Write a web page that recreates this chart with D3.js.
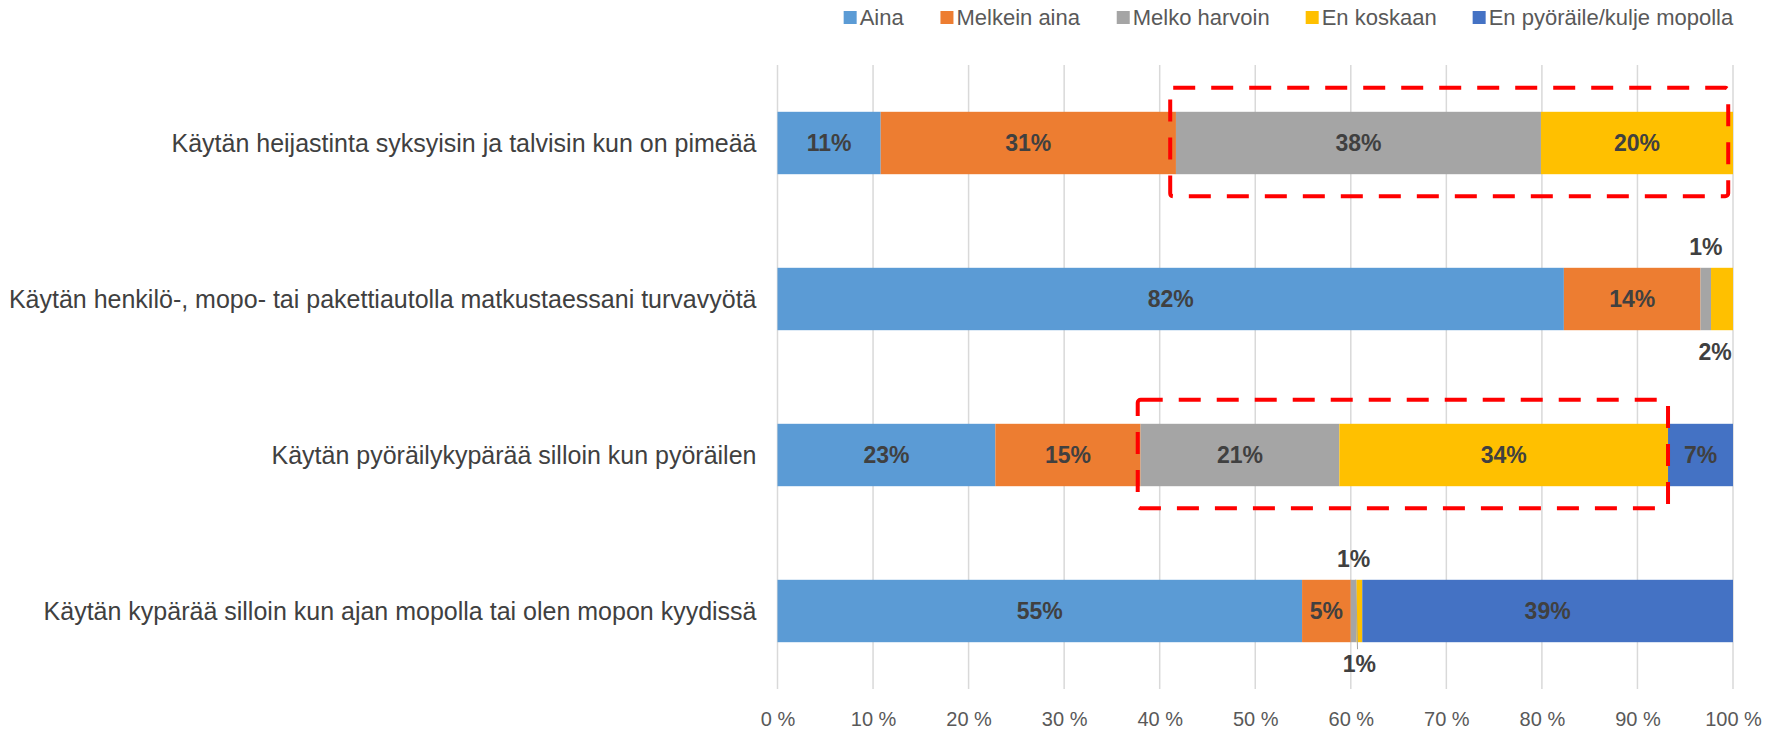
<!DOCTYPE html>
<html>
<head>
<meta charset="utf-8">
<script src="https://cdn.jsdelivr.net/npm/d3@7"></script>
<style>
  body { margin: 0; background: #fff; }
  svg { display: block; font-family: "Liberation Sans Narrow", "Liberation Sans", sans-serif; }
</style>
</head>
<body>
<svg id="chart" width="1777" height="730"></svg>
<script>
// categories (rows, top to bottom)
var categories = [
  "Käytän heijastinta syksyisin ja talvisin kun on pimeää",
  "Käytän henkilö-, mopo- tai pakettiautolla matkustaessani turvavyötä",
  "Käytän pyöräilykypärää silloin kun pyöräilen",
  "Käytän kypärää silloin kun ajan mopolla tai olen mopon kyydissä"
];

var seriesNames = ["Aina", "Melkein aina", "Melko harvoin", "En koskaan", "En pyöräile/kulje mopolla"];
var seriesColors = ["#5B9BD5", "#ED7D31", "#A5A5A5", "#FFC000", "#4472C4"];

// percent values per series, one per category
var aina         = [10.8, 82.3, 22.8, 54.9];
var melkeinAina  = [30.9, 14.3, 15.2, 5.1];
var melkoHarvoin = [38.2, 1.1, 20.8, 0.6];
var enKoskaan    = [20.1, 2.3, 34.4, 0.6];
var enPyoraile   = [0, 0, 6.8, 38.8];

var tickValues = [0, 10, 20, 30, 40, 50, 60, 70, 80, 90, 100];

// red dashed highlight boxes (row, from %, to %)
var highlightRows = [0, 2];
var highlightFrom = [41.1, 37.7];
var highlightTo   = [99.5, 93.2];

var allSeries = [aina, melkeinAina, melkoHarvoin, enKoskaan, enPyoraile];

var chart = d3.select("#chart");
var width = 1777, height = 730;
var margin = {top: 65, right: 44, bottom: 41, left: 777.5};

var x = d3.scaleLinear().domain([0, 100]).range([margin.left, width - margin.right]);
var y = d3.scaleBand().domain(categories)
          .range([margin.top, height - margin.bottom])
          .paddingInner(0.6).paddingOuter(0.3);

// gridlines
chart.append("g").attr("id", "grid")
     .selectAll("line").data(tickValues).enter()
     .append("line")
     .attr("x1", function(d) { return x(d); })
     .attr("x2", function(d) { return x(d); })
     .attr("y1", margin.top)
     .attr("y2", height - margin.bottom)
     .attr("stroke", "#D9D9D9")
     .attr("stroke-width", 1.5);

// x axis labels
var xAxis = d3.axisBottom(x).tickValues(tickValues).tickSize(0).tickPadding(0)
              .tickFormat(function(d) { return d + " %"; });
var xg = chart.append("g")
              .attr("transform", "translate(0," + (height - margin.bottom + 20) + ")")
              .call(xAxis);
xg.select(".domain").remove();
xg.selectAll("text")
  .attr("dy", "0.35em").attr("y", 10)
  .attr("fill", "#595959")
  .style("font-size", "20px");

// stacked data
var segs = [];
categories.forEach(function(c, i) {
  var acc = 0;
  allSeries.forEach(function(s, k) {
    segs.push({cat: c, row: i, k: k, v: s[i], x0: acc, x1: acc + s[i]});
    acc += s[i];
  });
});
segs = segs.filter(function(d) { return d.v > 0; });

var bars = chart.append("g").attr("id", "bars");
bars.selectAll("rect").data(segs).enter()
    .append("rect")
    .attr("x", function(d) { return x(d.x0); })
    .attr("width", function(d) { return x(d.x1) - x(d.x0); })
    .attr("y", function(d) { return y(d.cat); })
    .attr("height", y.bandwidth())
    .attr("fill", function(d) { return seriesColors[d.k]; });

// thin leader line through the tiny slices of the last row
var tiny = segs.filter(function(d) { return d.v < 3 && d.row == 3; });
chart.append("g").attr("id", "leaders")
    .selectAll("line").data(tiny.slice(0, 1)).enter()
    .append("line")
    .attr("x1", function(d) { return x(d.x1) - 1; })
    .attr("x2", function(d) { return x(d.x1) + 1; })
    .attr("y1", function(d) { return y(d.cat); })
    .attr("y2", function(d) { return y(d.cat) + y.bandwidth() + 7; })
    .attr("stroke", "#A5A5A5")
    .attr("stroke-width", 1);

// data labels
var labels = chart.append("g").attr("id", "labels")
    .style("font-family", "'Liberation Sans', sans-serif")
    .style("font-weight", "bold")
    .style("font-size", "23px")
    .attr("fill", "#404040");

labels.selectAll("text").data(segs).enter()
    .append("text")
    .attr("text-anchor", "middle")
    .attr("dy", "0.36em")
    .attr("x", function(d) {
      var cx = x((d.x0 + d.x1) / 2);
      if (d.v < 3) cx = Math.min(cx, x(100) - 18);
      return cx;
    })
    .attr("y", function(d) {
      var cy = y(d.cat) + y.bandwidth() / 2;
      if (d.v < 3) {
        // small slices go outside: grey above, yellow below
        cy = d.k == 2 ? y(d.cat) - 21 : y(d.cat) + y.bandwidth() + 22;
      }
      return cy;
    })
    .text(function(d) { return Math.round(d.v) + "%"; });

// category labels
chart.append("g").attr("id", "cats")
    .selectAll("text").data(categories).enter()
    .append("text")
    .attr("text-anchor", "end")
    .attr("x", margin.left - 21)
    .attr("y", function(d) { return y(d) + y.bandwidth() / 2; })
    .attr("dy", "0.35em")
    .attr("fill", "#404040")
    .style("font-size", "25px")
    .text(function(d) { return d; });

// highlight boxes
chart.append("g").attr("id", "highlights")
    .selectAll("rect").data(highlightRows).enter()
    .append("rect")
    .attr("x", function(d, i) { return x(highlightFrom[i]); })
    .attr("width", function(d, i) { return x(highlightTo[i]) - x(highlightFrom[i]); })
    .attr("y", function(d) { return y(categories[d]) - 24; })
    .attr("height", y.bandwidth() + 46)
    .attr("rx", 3)
    .attr("fill", "none")
    .attr("stroke", "#FF0000")
    .attr("stroke-width", 4)
    .attr("stroke-dasharray", "22,16");

// legend, laid out right to left so it ends at the plot edge
var legend = chart.append("g").attr("id", "legend");
var items = legend.selectAll("g").data(seriesNames).enter().append("g");
items.append("rect")
     .attr("width", 13).attr("height", 13)
     .attr("y", 11)
     .attr("fill", function(d, i) { return seriesColors[i]; });
items.append("text")
     .attr("x", 16).attr("y", 17).attr("dy", "0.35em")
     .attr("fill", "#595959")
     .style("font-size", "22px")
     .text(function(d) { return d; });

var legendX = width - margin.right + 1;
var widths = [];
items.each(function() { widths.push(this.getBBox().width); });
for (var i = seriesNames.length - 1; i >= 0; i--) {
  legendX -= widths[i];
  d3.select(items.nodes()[i]).attr("transform", "translate(" + legendX + ",0)");
  legendX -= 36;
}
</script>
</body>
</html>
